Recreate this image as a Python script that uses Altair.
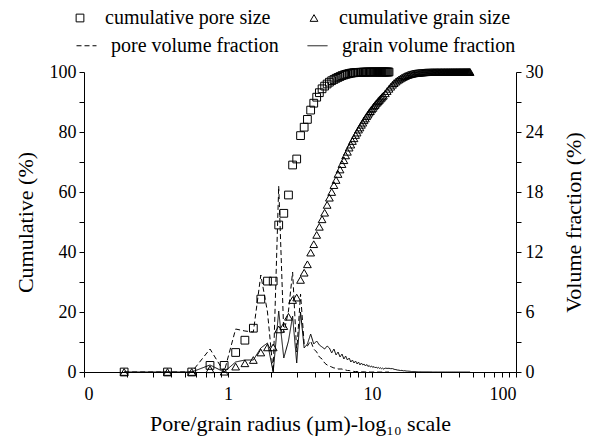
import altair as alt
import pandas as pd

# ---------------- data ----------------
pore_radius = [
    0.19, 0.38, 0.56, 0.75, 0.94, 1.13, 1.31, 1.50, 1.69, 1.88,
    2.06, 2.25, 2.44, 2.63, 2.81, 3.00, 3.19, 3.38, 3.56, 3.75,
    3.94, 4.13, 4.31, 4.50, 4.69, 4.88, 5.06, 5.25, 5.44, 5.63,
    5.81, 6.00, 6.19, 6.38, 6.56, 6.75, 6.94, 7.13, 7.31, 7.50,
    7.69, 7.88, 8.06, 8.25, 8.44, 8.63, 8.81, 9.00, 9.19, 9.38,
    9.56, 9.75, 9.94, 10.13, 10.31, 10.50, 10.69, 10.88, 11.06, 11.25,
    11.44, 11.63, 11.81, 12.00, 12.19, 12.38, 12.56, 12.75, 12.94, 13.13,
]
pore_cumulative = [
    0, 0, 0, 2.2, 2.2, 6.5, 10.6, 14.6, 24.3, 30.3,
    30.3, 49.0, 52.9, 59.0, 69.0, 71.0, 78.8, 81.6, 84.2, 87.3,
    89.6, 91.6, 93.1, 94.4, 95.3, 96.0, 96.6, 97.1, 97.5, 97.9,
    98.2, 98.5, 98.8, 99.0, 99.2, 99.35, 99.5, 99.6, 99.7, 99.75,
    99.8, 99.85, 99.88, 99.9, 99.92, 99.94, 99.95, 99.96, 99.97, 99.98,
    99.99, 100, 100, 100, 100, 100, 100, 100, 100, 100,
    100, 100, 100, 100, 100, 100, 100, 100, 100, 100,
]
pore_volume = [
    0, 0, 0, 2.3, 0, 4.3, 4.1, 4.0, 9.7, 6.0,
    0, 18.6, 3.9, 6.1, 10.0, 2.0, 7.8, 2.8, 2.6, 3.1,
    2.3, 2.0, 1.5, 1.3, 0.9, 0.7, 0.6, 0.5, 0.4, 0.4,
    0.3, 0.3, 0.3, 0.2, 0.2, 0.15, 0.15, 0.1, 0.1, 0.05,
    0.05, 0.05, 0.03, 0.02, 0.02, 0.02, 0.01, 0.01, 0.01, 0.01,
    0.01, 0, 0, 0, 0, 0, 0, 0, 0, 0,
    0, 0, 0, 0, 0, 0, 0, 0, 0, 0,
]

grain_radius = [
    0.19, 0.38, 0.56, 0.75, 0.94, 1.13, 1.31, 1.50, 1.69, 1.88,
    2.06, 2.25, 2.44, 2.63, 2.81, 3.00, 3.19, 3.38, 3.56, 3.75,
    3.94, 4.13, 4.31, 4.50, 4.69, 4.88, 5.06, 5.25, 5.44, 5.63,
    5.81, 6.00, 6.19, 6.38, 6.56, 6.75, 6.94, 7.13, 7.31, 7.50,
    7.69, 7.88, 8.06, 8.25, 8.44, 8.63, 8.81, 9.00, 9.19, 9.38,
    9.56, 9.75, 9.94, 10.13, 10.31, 10.50, 10.69, 10.88, 11.06, 11.25,
    11.44, 11.63, 11.81, 12.00,
    12.38, 12.75, 13.13, 13.50, 13.88, 14.25, 14.63, 15.00, 15.38, 15.75,
    16.13, 16.50, 16.88, 17.25, 17.63, 18.00, 18.38, 18.75, 19.13, 19.50,
    19.88, 20.25, 20.63, 21.00, 21.38, 21.75, 22.13, 22.50, 22.88, 23.25,
    23.63, 24.00, 24.38, 24.75, 25.13, 25.50, 25.88, 26.25, 26.63, 27.00,
    27.38, 27.75, 28.13, 28.50, 28.88, 29.25, 29.63, 30.00, 30.38, 30.75,
    31.13, 31.50, 31.88, 32.25, 32.63, 33.00, 33.38, 33.75, 34.13, 34.50,
    34.88, 35.25, 35.63, 36.00, 36.38, 36.75, 37.13, 37.50, 37.88, 38.25,
    38.63, 39.00, 39.38, 39.75, 40.13, 40.50, 40.88, 41.25, 41.63, 42.00,
    42.38, 42.75, 43.13, 43.50, 43.88, 44.25, 44.63, 45.00, 45.38, 45.75,
    46.13, 46.50, 46.88, 47.25, 47.63, 48.00,
]
grain_cumulative = [
    0, 0, 0, 0.9, 0.1, 1.8, 2.9, 4.0, 6.5, 8.2,
    8.2, 14.2, 15.3, 18.4, 24.0, 24.8, 30.7, 33.1, 35.9, 39.8,
    42.6, 45.7, 48.4, 50.9, 53.1, 55.7, 58.1, 60.0, 62.3, 64.0,
    66.0, 67.5, 69.3, 70.6, 72.2, 73.4, 74.8, 75.8, 77.0, 77.9,
    79.0, 79.8, 80.8, 81.5, 82.4, 83.1, 83.9, 84.5, 85.25, 85.8,
    86.45, 86.95, 87.55, 88.0, 88.55, 88.97, 89.47, 89.85, 90.31, 90.67,
    91.09, 91.42, 91.82, 92.12,
    92.9, 93.65, 94.4, 95.1, 95.75, 96.3, 96.75, 97.15, 97.5, 97.8,
    98.1, 98.35, 98.6, 98.8, 98.97, 99.12, 99.25, 99.36, 99.45, 99.53,
    99.6, 99.66, 99.71, 99.75, 99.79, 99.82, 99.85, 99.87, 99.89, 99.91,
    99.93, 99.94, 99.95, 99.96, 99.97, 99.98, 99.99, 99.99, 100, 100,
    100, 100, 100, 100, 100, 100, 100, 100, 100, 100,
    100, 100, 100, 100, 100, 100, 100, 100, 100, 100,
    100, 100, 100, 100, 100, 100, 100, 100, 100, 100,
    100, 100, 100, 100, 100, 100, 100, 100, 100, 100,
    100, 100, 100, 100, 100, 100, 100, 100, 100, 100,
    100, 100, 100, 100, 100, 100,
]
grain_volume = [
    0, 0, 0, 0.7, 0, 1.0, 1.2, 1.2, 2.4, 2.9,
    0, 6.1, 1.4, 3.1, 5.6, 0.9, 6.0, 2.4, 2.8, 3.8,
    2.8, 3.1, 2.7, 2.5, 2.3, 2.6, 2.4, 1.9, 2.3, 1.7,
    2.0, 1.5, 1.8, 1.3, 1.6, 1.2, 1.4, 1.0, 1.2, 0.9,
    1.1, 0.8, 1.0, 0.7, 0.9, 0.7, 0.8, 0.6, 0.75, 0.55,
    0.65, 0.5, 0.6, 0.45, 0.55, 0.42, 0.5, 0.38, 0.46, 0.36,
    0.42, 0.33, 0.4, 0.3,
    0.38, 0.36, 0.37, 0.33, 0.34, 0.27, 0.24, 0.20, 0.18, 0.15,
    0.16, 0.12, 0.13, 0.10, 0.09, 0.08, 0.07, 0.05, 0.05, 0.04,
    0.04, 0.03, 0.03, 0.02, 0.02, 0.02, 0.01, 0.01, 0.01, 0.01,
    0.01, 0.01, 0.01, 0.01, 0.01, 0.01, 0.01, 0, 0, 0,
    0, 0, 0, 0, 0, 0, 0, 0, 0, 0,
    0, 0, 0, 0, 0, 0, 0, 0, 0, 0,
    0, 0, 0, 0, 0, 0, 0, 0, 0, 0,
    0, 0, 0, 0, 0, 0, 0, 0, 0, 0,
    0, 0, 0, 0, 0, 0, 0, 0, 0, 0,
    0, 0, 0, 0, 0, 0,
]

cum_series = ["cumulative pore size", "cumulative grain size"]
vol_series = ["pore volume fraction", "grain volume fraction"]

x_tick_values = [0.1, 0.2, 0.3, 0.4, 0.5, 0.6, 0.7, 0.8, 0.9,
                 1, 2, 3, 4, 5, 6, 7, 8, 9,
                 10, 20, 30, 40, 50, 60, 70, 80, 90, 100]
left_tick_values = [0, 10, 20, 30, 40, 50, 60, 70, 80, 90, 100]
right_tick_values = [0, 3, 6, 9, 12, 15, 18, 21, 24, 27, 30]

# ---------------- tables ----------------
cum_df = pd.concat([
    pd.DataFrame({"r": pore_radius, "value": pore_cumulative, "series": cum_series[0]}),
    pd.DataFrame({"r": grain_radius, "value": grain_cumulative, "series": cum_series[1]}),
], ignore_index=True)
vol_df = pd.concat([
    pd.DataFrame({"r": pore_radius, "value": pore_volume, "series": vol_series[0]}),
    pd.DataFrame({"r": grain_radius, "value": grain_volume, "series": vol_series[1]}),
], ignore_index=True)

FONT = "Liberation Serif"

x_enc = alt.X(
    "r:Q",
    scale=alt.Scale(type="log", domain=[0.1, 100], nice=False),
    axis=alt.Axis(
        values=x_tick_values,
        labelExpr="datum.value == 0.1 ? '0' : (datum.value == 1 ? '1' : (datum.value == 10 ? '10' : (datum.value == 100 ? '100' : '')))",
        title="Pore/grain radius (µm)-log₁₀ scale",
        tickSize=5,
        labelPadding=8,
        titlePadding=10,
    ),
)

points = alt.Chart(cum_df).mark_point(
    filled=False, color="black", strokeWidth=1, opacity=1, size=60
).encode(
    x=x_enc,
    y=alt.Y(
        "value:Q",
        scale=alt.Scale(domain=[0, 100], nice=False),
        axis=alt.Axis(
            values=left_tick_values,
            labelExpr="datum.value % 20 == 0 ? datum.label : ''",
            title="Cumulative (%)",
            tickSize=5,
            labelPadding=3,
            titlePadding=12,
        ),
    ),
    shape=alt.Shape(
        "series:N",
        scale=alt.Scale(domain=cum_series, range=["square", "triangle-up"]),
        legend=alt.Legend(
            title=None, orient="none", legendX=-14, legendY=-64,
            direction="horizontal", columnPadding=33, labelOffset=15,
            symbolSize=60, symbolStrokeWidth=1, symbolStrokeColor="black",
            symbolFillColor="white",
            labelFont=FONT, labelFontSize=20, labelLimit=400, padding=0,
        ),
    ),
)

lines = alt.Chart(vol_df).mark_line(color="black", strokeWidth=1).encode(
    x=x_enc,
    y=alt.Y(
        "value:Q",
        scale=alt.Scale(domain=[0, 30], nice=False),
        axis=alt.Axis(
            orient="right",
            values=right_tick_values,
            labelExpr="datum.value % 6 == 0 ? datum.label : ''",
            title="Volume fraction (%)",
            titleAngle=270,
            titleBaseline="top",
            tickSize=5,
            labelPadding=4,
            titlePadding=20,
        ),
    ),
    strokeDash=alt.StrokeDash(
        "series:N",
        scale=alt.Scale(domain=vol_series, range=[[5, 3], [1, 0]]),
        legend=alt.Legend(
            title=None, orient="none", legendX=-8, legendY=-37,
            direction="horizontal", columnPadding=26, labelOffset=14,
            symbolType="stroke", symbolSize=400, symbolStrokeWidth=1,
            symbolStrokeColor="black",
            labelFont=FONT, labelFontSize=20, labelLimit=400, padding=0,
        ),
    ),
)

chart = alt.layer(points, lines).resolve_scale(
    y="independent"
).properties(
    width=432,
    height=300,
    autosize=alt.AutoSizeParams(type="none"),
    padding={"left": 84, "top": 72, "right": 84, "bottom": 64},
    background="white",
).configure_view(
    stroke=None
).configure_axis(
    grid=False,
    domainColor="black",
    domainWidth=1,
    tickColor="black",
    tickWidth=1,
    labelColor="black",
    titleColor="black",
    labelFont=FONT,
    labelFontSize=18,
    titleFont=FONT,
    titleFontSize=22,
    titleFontWeight="normal",
)

chart.save("out.html", embed_options={"renderer": "svg", "actions": False})
